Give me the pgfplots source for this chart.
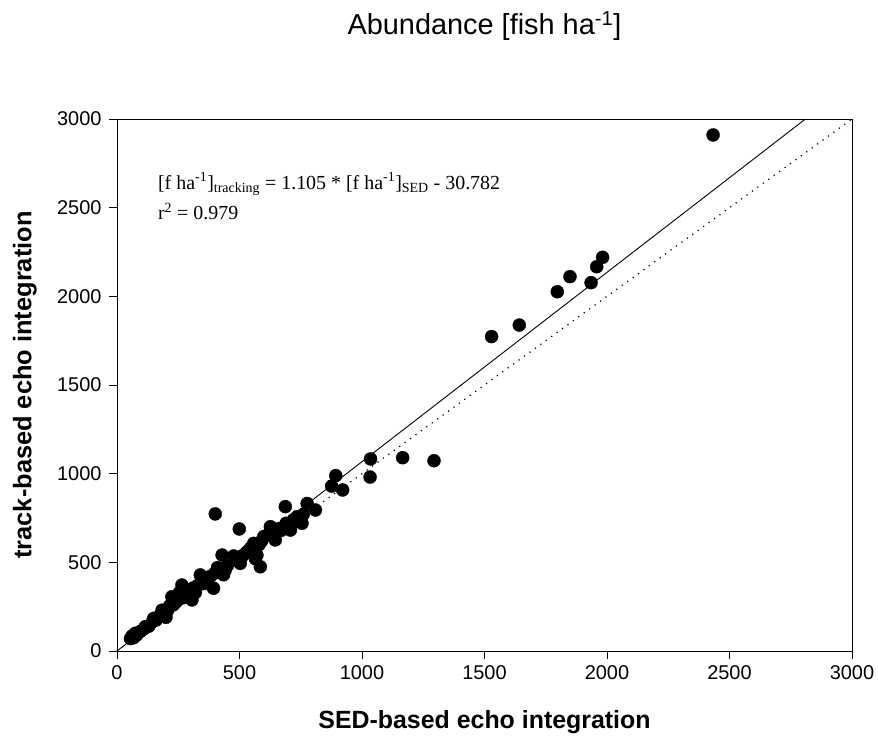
\documentclass[border=0pt]{standalone}
\usepackage{pgfplots}
\pgfplotsset{compat=1.18}
\usepackage{fontspec}
\setmainfont{Liberation Sans}
\newfontfamily\timesfont{Liberation Serif}
\begin{document}
\begin{tikzpicture}
\begin{axis}[name=ax,
  scale only axis, width=735bp, height=532bp,
  xmin=0, xmax=3000, ymin=0, ymax=3000,
  xtick={0,500,...,3000}, ytick={0,500,...,3000},
  tick align=outside, xtick pos=left, ytick pos=left,
  major tick length=8bp,
  axis line style={line width=0.8bp},
  tick style={black, line width=0.8bp},
  ticklabel style={font=\fontsize{20}{22}\selectfont},
  yticklabel style={xshift=-4bp},
  xticklabel style={yshift=-3bp},
  /pgf/number format/assume math mode=true,
  /pgf/number format/1000 sep={},
  xlabel={\textbf{SED-based echo integration}},
  ylabel={\textbf{track-based echo integration}},
  xlabel style={font=\fontsize{25}{28}\selectfont, at={(axis description cs:0.5,-0.1335)}, anchor=center},
  ylabel style={font=\fontsize{25.5}{28}\selectfont, at={(axis description cs:-0.1252,0.5)}, anchor=center},
  title={Abundance [fish ha\textsuperscript{-1}]},
  title style={font=\fontsize{29}{32}\selectfont, at={(axis description cs:0.5,1.1635)}, anchor=center},
  clip=false,
]
\addplot[black, line width=1.2bp, dash pattern=on 1.2bp off 5.5bp] coordinates {(0,0) (3000,3000)};
\addplot[black, line width=0.9bp] coordinates {(0,0) (2810,3000)};
\addplot[only marks, mark=*, mark size=6.5bp, black] coordinates {
(55,70) (62,85) (68,75) (75,100) (80,90) (95,110) (110,125) (116,137) (130,140) (145,165)
(150,184) (160,175) (175,200) (184,230) (190,215) (200,190) (204,222) (210,240) (215,255) (224,306)
(230,260) (240,275) (250,290) (255,330) (265,372) (270,300) (280,330) (290,310) (300,340) (306,288)
(310,355) (320,330) (330,370) (340,429) (345,390) (355,380) (365,400) (380,420) (394,354) (400,440)
(410,470) (415,457) (429,541) (435,430) (442,457) (450,480) (476,536) (490,510) (503,494) (515,540)
(531,560) (545,580) (558,607) (565,520) (571,541) (580,600) (585,475) (590,620) (599,645) (610,650)
(626,701) (635,670) (646,626) (660,690) (670,680) (687,814) (690,720) (700,700) (708,682) (720,740)
(735,757) (745,730) (755,720) (760,770) (776,832) (810,795)
(401,773) (499,688)
(876,930) (893,989) (921,908) (1033,981) (1035,1083) (1166,1090) (1294,1073)
(1529,1773) (1642,1838) (1797,2026) (1849,2111) (1935,2077) (1958,2167) (1982,2220)
(2433,2910)
};
\node[anchor=base west, font=\timesfont\fontsize{20}{22}\selectfont, inner sep=0pt] at (axis cs:167,2605)
  {[f ha\textsuperscript{-1}]\textsubscript{tracking} = 1.105 * [f ha\textsuperscript{-1}]\textsubscript{SED} - 30.782};
\node[anchor=base west, font=\timesfont\fontsize{20}{22}\selectfont, inner sep=0pt] at (axis cs:167,2431)
  {r\textsuperscript{2} = 0.979};
\end{axis}
\pgfresetboundingbox
\path ([xshift=-117bp,yshift=-89bp]ax.south west) rectangle ([xshift=26bp,yshift=119bp]ax.north east);
\end{tikzpicture}
\end{document}
